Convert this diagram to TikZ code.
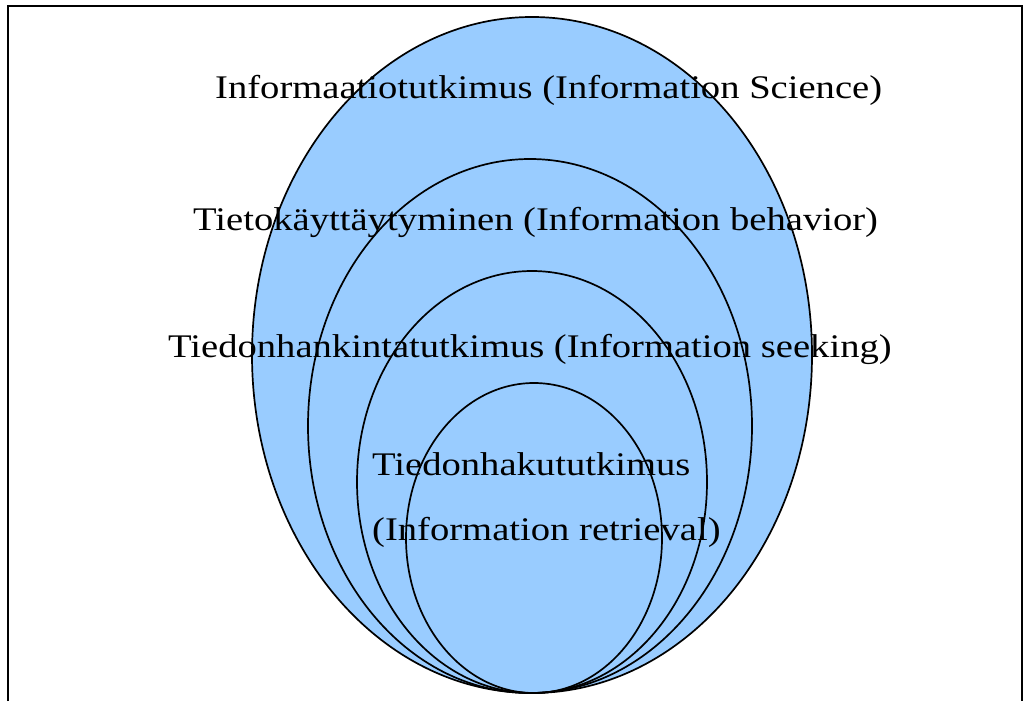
\documentclass[tikz,border=0pt]{standalone}
\usepackage{fontspec}
\setmainfont{Liberation Serif}[FakeStretch=1.17]
\begin{document}
\begin{tikzpicture}[x=1pt,y=-1pt,
  ring/.style={draw=black,line width=1.7pt},
  lbl/.style={inner sep=0pt,font=\fontsize{33}{38}\selectfont,text=black}]
\definecolor{skyfill}{HTML}{99CCFF}
\useasboundingbox (0,0) rectangle (1030,701);
\draw[line width=2pt] (8,701) -- (8,6) -- (1022,6) -- (1022,701);
\draw[ring,fill=skyfill] (532,355) ellipse [x radius=280,y radius=338];
\draw[ring] (530,426) ellipse [x radius=222,y radius=267];
\draw[ring] (532,482) ellipse [x radius=175,y radius=211];
\draw[ring] (534,538) ellipse [x radius=128,y radius=155];
\node[lbl,anchor=west] (t1) at (215,90) {Informaatiotutkimus (Information Science)};
\node[lbl,anchor=west] (t2) at (193,222) {Tietokäyttäytyminen (Information behavior)};
\node[lbl,anchor=west] (t3) at (168,349) {Tiedonhankintatutkimus (Information seeking)};
\node[lbl,anchor=west] (t4) at (372,464) {Tiedonhakututkimus};
\node[lbl,anchor=west] (t5) at (372,532) {(Information retrieval)};
\end{tikzpicture}
\end{document}
